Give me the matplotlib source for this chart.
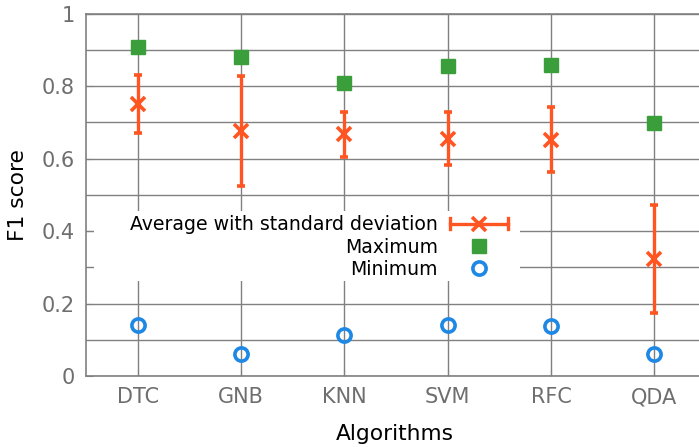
import numpy as np
import matplotlib
matplotlib.use("Agg")
import matplotlib.pyplot as plt
from matplotlib.lines import Line2D
from matplotlib.patches import Rectangle
from matplotlib.legend_handler import HandlerBase

# values
algorithms = ["DTC", "GNB", "KNN", "SVM", "RFC", "QDA"]
avg_f1 = [0.751, 0.677, 0.668, 0.655, 0.652, 0.323]
std_f1 = [0.079, 0.152, 0.062, 0.073, 0.090, 0.150]
max_f1 = [0.909, 0.881, 0.809, 0.856, 0.859, 0.699]
min_f1 = [0.141, 0.061, 0.113, 0.141, 0.138, 0.061]

orange = "#ff5522"
green = "#3a9e3a"
blue = "#1e88e5"
grid_col = "#808080"
tick_col = "#6e6e6e"


# gnuplot style key entry: horizontal bar with caps and the point in the middle
class HandlerHBar(HandlerBase):
    def create_artists(self, legend, orig_handle, xdescent, ydescent,
                       width, height, fontsize, trans):
        y = height / 2 - ydescent
        x0, x1 = -xdescent, width - xdescent
        c = orig_handle.get_color()
        bar = Line2D([x0, x1], [y, y], color=c, lw=2.4, transform=trans)
        cap0 = Line2D([x0, x0], [y - 4, y + 4], color=c, lw=2.4, transform=trans)
        cap1 = Line2D([x1, x1], [y - 4, y + 4], color=c, lw=2.4, transform=trans)
        pt = Line2D([(x0 + x1) / 2], [y], marker="x", color=c, markersize=10,
                    markeredgewidth=2.6, linestyle="none", transform=trans)
        return [bar, cap0, cap1, pt]


fig = plt.figure(figsize=(6.99, 4.47), dpi=100)
ax = fig.add_axes([0.123, 0.159, 0.884, 0.81])

x = np.arange(len(algorithms))

ax.errorbar(x, avg_f1, yerr=std_f1, fmt="x", color=orange, ecolor=orange,
            elinewidth=2.4, capsize=3, capthick=2.4, markersize=10,
            markeredgewidth=2.6, zorder=3)
ax.plot(x, max_f1, "s", color=green, markersize=9.5, linestyle="none", zorder=3)
ax.plot(x, min_f1, "o", markerfacecolor="none", markeredgecolor=blue,
        markersize=9.5, markeredgewidth=2.6, linestyle="none", zorder=3)

ax.set_xlim(-0.5, 5.48)
ax.set_ylim(0, 1)
ax.set_xticks(x)
ax.set_xticklabels(algorithms)
ax.set_yticks([0, 0.2, 0.4, 0.6, 0.8, 1.0])
ax.set_yticklabels(["0", "0.2", "0.4", "0.6", "0.8", "1"])
ax.set_yticks(np.arange(0.1, 1.0, 0.2), minor=True)
ax.tick_params(axis="both", which="both", direction="in", length=5,
               color=grid_col, labelsize=15, labelcolor=tick_col, pad=8)
ax.grid(True, which="both", color=grid_col, linewidth=1.0)
ax.set_axisbelow(True)
for s in ["top", "left", "bottom"]:
    ax.spines[s].set_color(grid_col)
    ax.spines[s].set_linewidth(1.2)
ax.spines["right"].set_visible(False)

ax.set_xlabel("Algorithms", fontsize=15.7, labelpad=12)
ax.set_ylabel("F1 score", fontsize=15.7, labelpad=10)

# white key box that blanks the grid behind the legend
ax.add_patch(Rectangle((0.013, 0.262), 0.689, 0.194, transform=ax.transAxes,
                       facecolor="white", edgecolor="none", zorder=1))

handles = [Line2D([], [], color=orange),
           Line2D([], [], marker="s", color=green, markersize=9.5, linestyle="none"),
           Line2D([], [], marker="o", markerfacecolor="none", markeredgecolor=blue,
                  markersize=9.5, markeredgewidth=2.6, linestyle="none")]
labels = ["Average with standard deviation", "Maximum", "Minimum"]
leg = ax.legend(handles, labels, loc="center right",
                bbox_to_anchor=(0.683, 0.356), markerfirst=False,
                frameon=False, fontsize=13.6, handlelength=3.07,
                labelspacing=0.17, borderpad=0, borderaxespad=0,
                handletextpad=0.63,
                handler_map={handles[0]: HandlerHBar()})
for t in leg.get_texts():
    t.set_ha("right")
    t.set_position((0, 0))

fig.savefig("out.png", dpi=100)
